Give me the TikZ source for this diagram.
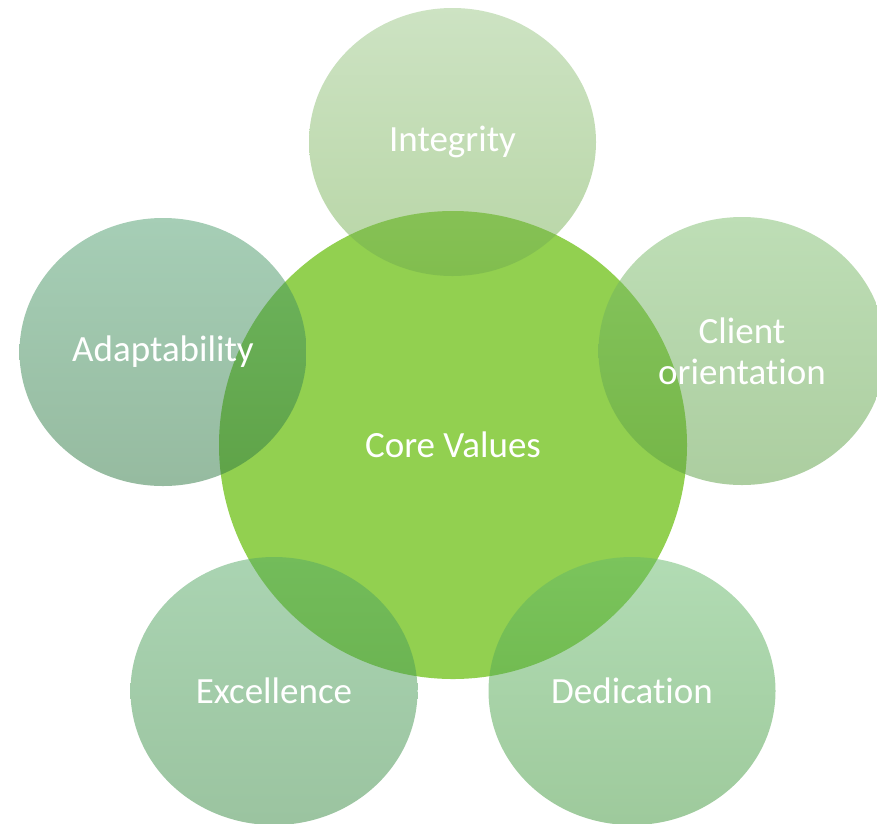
\documentclass[tikz,border=0pt]{standalone}
\usepackage{fontspec}
\setmainfont[Ligatures=NoCommon]{Carlito}
\usetikzlibrary{shapes.geometric}
\definecolor{coregreen}{RGB}{146,208,80}
\definecolor{intTop}{RGB}{155,199,135}
\definecolor{intBot}{RGB}{113,173,77}
\definecolor{adaTop}{RGB}{77,157,109}
\definecolor{adaBot}{RGB}{45,119,65}
\definecolor{cliTop}{RGB}{125,189,109}
\definecolor{cliBot}{RGB}{89,157,65}
\definecolor{excTop}{RGB}{85,169,101}
\definecolor{excBot}{RGB}{55,137,65}
\definecolor{dedTop}{RGB}{101,185,105}
\definecolor{dedBot}{RGB}{61,149,57}
\tikzset{
  lbl/.style={text=white, font=\fontsize{37}{41}\selectfont, align=center},
  core/.style={circle, fill=coregreen, minimum size=468pt, inner sep=0pt, lbl},
  petal/.style={ellipse, minimum width=287pt, minimum height=268pt, inner sep=0pt, fill opacity=0.5, text opacity=1, lbl}
}
\begin{document}
\begin{tikzpicture}[x=1pt,y=-1pt]
\useasboundingbox (0,0) rectangle (877,823);
\clip (0,0) rectangle (877,823);
\node[core] (core) at (453,445) {Core Values};
\node[petal, top color=intTop, bottom color=intBot] (integrity) at (452.5,142) {Integrity};
\node[petal, top color=cliTop, bottom color=cliBot] (client) at (742,351) {Client\\orientation};
\node[petal, top color=adaTop, bottom color=adaBot] (adapt) at (163,352) {Adaptability};
\node[petal, top color=excTop, bottom color=excBot] (excel) at (274,691) {Excellence};
\node[petal, top color=dedTop, bottom color=dedBot] (dedic) at (632,691) {Dedication};
\end{tikzpicture}
\end{document}
